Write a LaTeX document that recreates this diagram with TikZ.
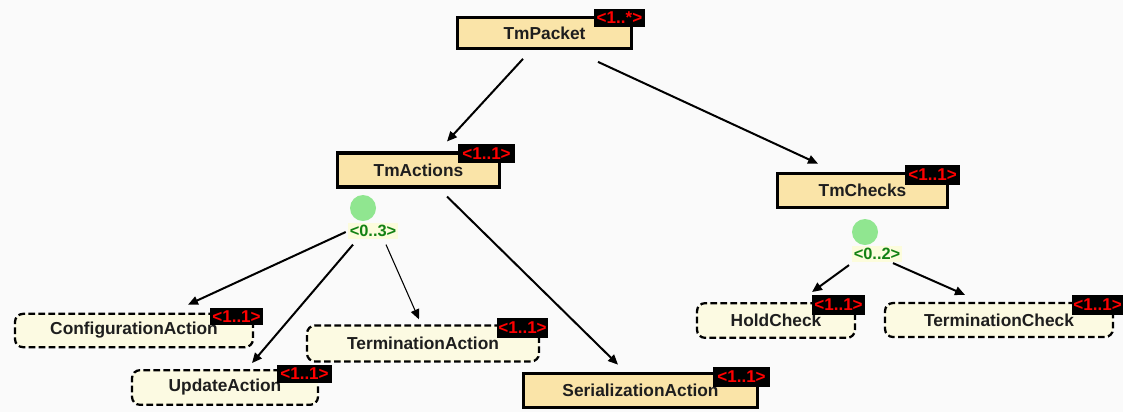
\documentclass[tikz,border=0pt]{standalone}
\usepackage{fontspec}
\setmainfont{Liberation Sans}
\usetikzlibrary{arrows.meta,calc}
\definecolor{bgcol}{RGB}{250,250,250}
\definecolor{elemfill}{RGB}{250,228,168}
\definecolor{optfill}{RGB}{252,250,226}
\definecolor{cardred}{RGB}{255,0,0}
\definecolor{choicegreen}{RGB}{144,230,144}
\definecolor{choicetext}{RGB}{20,130,20}
\definecolor{choicebg}{RGB}{252,252,220}
\definecolor{boxtext}{RGB}{30,30,30}
\tikzset{
  elem/.style={draw=black, line width=2.3pt, fill=elemfill, inner sep=0pt,
    text=boxtext, font=\bfseries\fontsize{13}{15}\selectfont},
  optelem/.style={draw=black, line width=1.7pt, dash pattern=on 5pt off 2.5pt,
    rounded corners=6pt, fill=optfill, inner sep=0pt,
    text=boxtext, font=\bfseries\fontsize{13}{15}\selectfont},
  card/.style={fill=black, text=cardred, inner sep=0pt,
    font=\bfseries\fontsize{12.8}{14}\selectfont},
  choice/.style={circle, fill=choicegreen, minimum size=19.5pt, inner sep=0pt},
  choicelabel/.style={fill=choicebg, text=choicetext, inner sep=0pt,
    minimum width=37.5pt, minimum height=12.5pt,
    font=\bfseries\fontsize{12.3}{13}\selectfont},
  link/.style={draw=black, line width=1.5pt, -{Triangle[length=7.5pt,width=6.5pt]}},
  thinlink/.style={draw=black, line width=0.8pt, -{Triangle[length=7.5pt,width=6.5pt]}}
}
\begin{document}
\begin{tikzpicture}[x=0.75pt,y=-0.75pt]
  % canvas
  \fill[bgcol] (0,0) rectangle (1123,412);
  \useasboundingbox (0,0) rectangle (1123,412);

  % element boxes
  \node[elem, minimum width=131pt, minimum height=23pt] (tp) at (544.5,33) {TmPacket};
  \node[elem, minimum width=122pt, minimum height=25.5pt] (ta) at (418.5,170) {TmActions};
  \node[elem, minimum width=127pt, minimum height=26pt] (tc) at (862.5,190.5) {TmChecks};
  \node[elem, minimum width=175pt, minimum height=26pt] (sa) at (640.5,390.5) {SerializationAction};

  \node[optelem, minimum width=178.5pt, minimum height=25pt] (cfg) at (134,330.5) {ConfigurationAction};
  \node[optelem, minimum width=139.5pt, minimum height=26pt] (upd) at (225,387.5) {UpdateAction};
  \node[optelem, minimum width=174pt, minimum height=27pt] (tact) at (423,343.5) {TerminationAction};
  \node[optelem, minimum width=118.5pt, minimum height=26pt] (hc) at (776,320.5) {HoldCheck};
  \node[optelem, minimum width=171pt, minimum height=25.5pt] (tck) at (999,320) {TerminationCheck};

  % choice points
  \node[choice] (c1) at (363,208) {};
  \node[choicelabel] (c1l) at (373,231) {<0..3>};
  \node[choice] (c2) at (865,232) {};
  \node[choicelabel] (c2l) at (877,254) {<0..2>};

  % cardinality tags
  \node[card, minimum width=38pt, minimum height=13.5pt] (tpc) at (619.5,18) {<1..*>};
  \node[card, minimum width=42.5pt, minimum height=14pt] (tac) at (486.5,153.5) {<1..1>};
  \node[card, minimum width=41pt, minimum height=15pt] (tcc) at (932.5,175) {<1..1>};
  \node[card, minimum width=42.5pt, minimum height=15pt] (sac) at (741.5,377) {<1..1>};
  \node[card, minimum width=40pt, minimum height=13pt] (cfgc) at (236.5,316.5) {<1..1>};
  \node[card, minimum width=41pt, minimum height=13.5pt] (updc) at (304.5,374) {<1..1>};
  \node[card, minimum width=38pt, minimum height=15pt] (tactc) at (522.5,328) {<1..1>};
  \node[card, minimum width=40pt, minimum height=15pt] (hcc) at (838.5,305) {<1..1>};
  \node[card, minimum width=38pt, minimum height=15pt] (tckc) at (1097.5,305) {<1..1>};

  % connectors
  \draw[link] ([shift={(-21.5,9)}]tp.south) -- ([shift={(28.5,-10)}]ta.north);
  \draw[link] ([shift={(53.5,12)}]tp.south) -- ([shift={(-44.5,-8)}]tc.north);
  \draw[link] ([shift={(28.5,8)}]ta.south) -- ([shift={(-22.5,-7)}]sa.north);

  \draw[link] ([shift={(-2,1)}]c1l.west) -- ([shift={(54,-8)}]cfg.north);
  \draw[link] ([shift={(-20,5)}]c1l.south) -- ([shift={(27,-6)}]upd.north);
  \draw[thinlink] ([shift={(13,5)}]c1l.south) -- ([shift={(-4,-5)}]tact.north);

  \draw[link] ([shift={(-28,2.5)}]c2l.south) -- ([shift={(36,-10)}]hc.north);
  \draw[link] ([shift={(16,0.5)}]c2l.south) -- ([shift={(-34,-7)}]tck.north);
\end{tikzpicture}
\end{document}
